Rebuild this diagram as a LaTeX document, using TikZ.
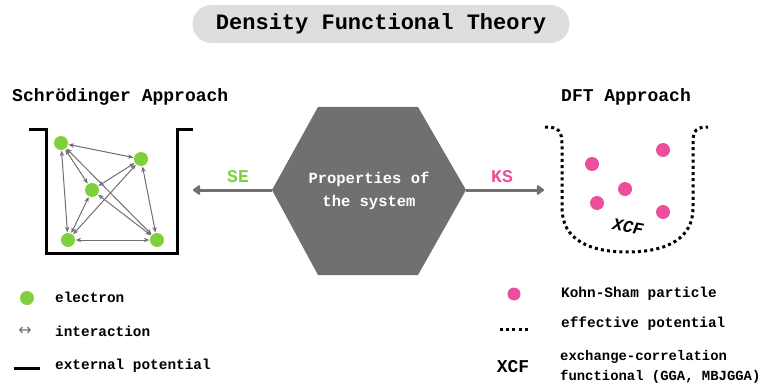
\documentclass[tikz,border=0pt]{standalone}
\usepackage{fontspec}
\setmainfont{Liberation Mono}
\newfontfamily\symfont{DejaVu Sans}
\usetikzlibrary{arrows.meta}
\definecolor{egreen}{HTML}{80D03C}
\definecolor{kspink}{HTML}{EC4E9C}
\definecolor{hexgray}{HTML}{707070}
\definecolor{pillgray}{HTML}{DEDEDE}
\definecolor{arrgray}{HTML}{707070}
\tikzset{
  electron/.style={circle,fill=egreen,inner sep=0pt,minimum size=14pt},
  ksdot/.style={circle,fill=kspink,inner sep=0pt,minimum size=14pt},
  inter/.style={{Stealth[length=5.5pt,width=4.5pt]}-{Stealth[length=5.5pt,width=4.5pt]},draw=arrgray,line width=1pt,shorten <=0.5pt,shorten >=0.5pt},
  bigarrow/.style={-{Triangle[round,length=8pt,width=11pt]},draw=arrgray,line width=3pt},
  wall/.style={draw=black,line width=3pt},
  effwall/.style={draw=black,line width=3pt,dash pattern=on 3pt off 3.2pt},
  lbl/.style={font=\fontsize{14.4}{16}\selectfont\bfseries,anchor=west,inner sep=0pt},
  head/.style={font=\fontsize{18}{21}\selectfont\bfseries,inner sep=0pt},
}
\begin{document}
\begin{tikzpicture}[x=1pt,y=-1pt]
\useasboundingbox (0,0) rectangle (767,390);
% title
\node[fill=pillgray,rounded corners=19pt,minimum width=377pt,minimum height=38pt,inner sep=0pt,
  font=\fontsize{22}{26}\selectfont\bfseries] (title) at (381,24) {Density Functional Theory};
% headings
\node[head,anchor=west] (schr) at (12,97) {Schrödinger Approach};
\node[head] (dfth) at (626,97) {DFT Approach};
% left well
\draw[wall] (29,130) -- (46,130) -- (46,253) -- (177,253) -- (177,130) -- (193,130);
% electrons
\node[electron] (e1) at (61,143) {};
\node[electron] (e2) at (141,159) {};
\node[electron] (e3) at (92,190) {};
\node[electron] (e4) at (68,240) {};
\node[electron] (e5) at (157,240) {};
\foreach \a/\b in {e1/e2,e1/e3,e1/e4,e1/e5,e2/e3,e2/e4,e2/e5,e3/e4,e3/e5,e4/e5}
  \draw[inter] (\a) -- (\b);
% hexagon
\fill[hexgray] (318,107) -- (418,107) -- (466,190) -- (418,275) -- (318,275) -- (272,190) -- cycle;
\node[text=white,align=center,font=\fontsize{15.5}{23}\selectfont\bfseries] (props) at (369,191) {Properties of\\the system};
\coordinate (hl) at (272,190);
\coordinate (hr) at (466,190);
\coordinate (seend) at (193,190);
\coordinate (ksend) at (544,190);
\draw[bigarrow] (hl) -- (seend);
\draw[bigarrow] (hr) -- (ksend);
\node[head,text=egreen] (se) at (238,177) {SE};
\node[head,text=kspink] (ks) at (502,177) {KS};
% right well (effective potential)
\draw[effwall] (545,127) .. controls (559,127) and (562,131) .. (562,145) -- (562,208)
  .. controls (562,240) and (590,252) .. (627,252) .. controls (668,252) and (693,238) .. (693,208)
  -- (693,142) .. controls (693,130) and (697,127) .. (708,127);
\node[ksdot] (k1) at (592,164) {};
\node[ksdot] (k2) at (663,150) {};
\node[ksdot] (k3) at (625,189) {};
\node[ksdot] (k4) at (597,203) {};
\node[ksdot] (k5) at (663,212) {};
\node[font=\fontsize{17}{20}\selectfont\bfseries\itshape,rotate=-10,inner sep=0pt] (xcfwell) at (628,227) {XCF};
% legend left
\node[electron] (le) at (27,298) {};
\node[lbl] (lelectron) at (55,297) {electron};
\node[text=arrgray,font=\symfont\fontsize{16}{18}\selectfont,inner sep=0pt] (lint) at (25,331) {↔};
\node[lbl] (linter) at (55,331) {interaction};
\draw[wall] (14,368) -- (40,368);
\node[lbl] (lext) at (55,366) {external potential};
% legend right
\node[ksdot,minimum size=13pt] (lks) at (514,294) {};
\node[lbl] (lkstext) at (561,294) {Kohn-Sham particle};
\draw[effwall] (500,329) -- (529,329);
\node[lbl] (leff) at (561,324) {effective potential};
\node[font=\fontsize{18}{21}\selectfont\bfseries,inner sep=0pt] (lxcf) at (513,367) {XCF};
\node[lbl,align=left,font=\fontsize{13.9}{20}\selectfont\bfseries] (lxctext) at (560,367) {exchange-correlation\\functional (GGA, MBJGGA)};
\end{tikzpicture}
\end{document}
